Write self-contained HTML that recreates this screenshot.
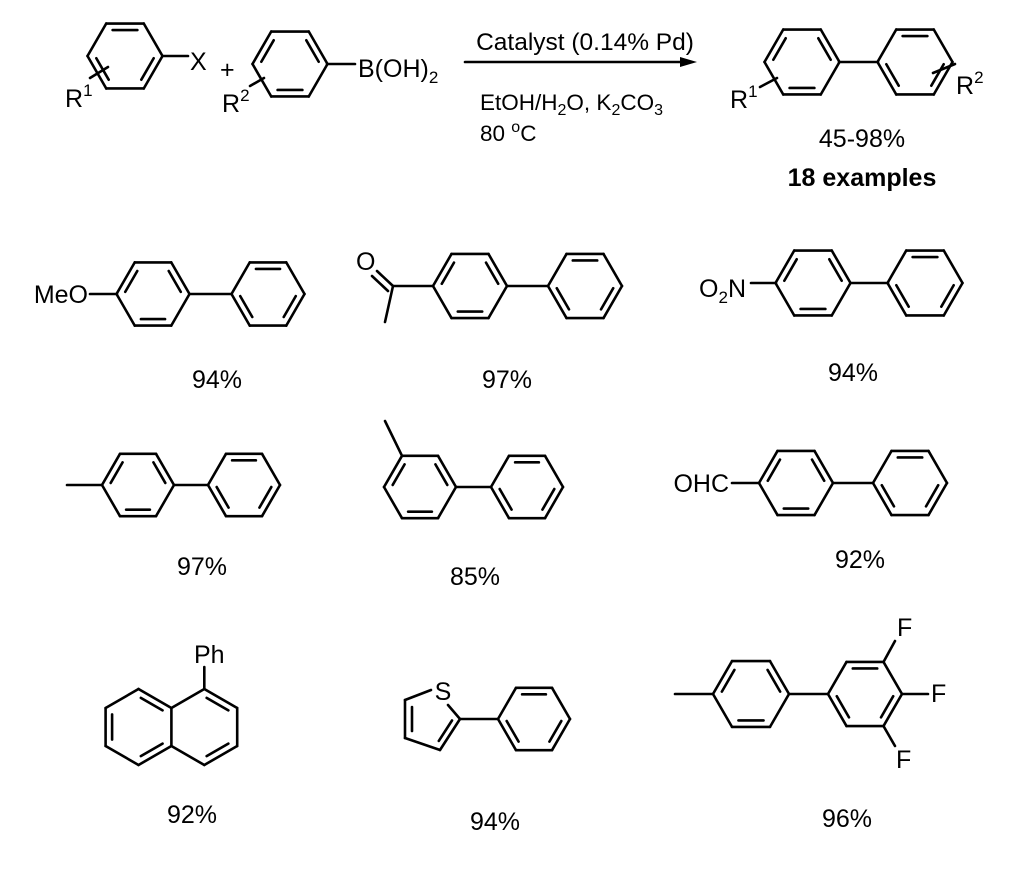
<!DOCTYPE html>
<html><head><meta charset="utf-8"><style>
html,body{margin:0;padding:0;background:#fff;}
svg{display:block;}
text{font-family:"Liberation Sans",Arial,sans-serif;fill:#000;}
</style></head><body>
<svg id="s" width="1024" height="877" viewBox="0 0 1024 877" xmlns="http://www.w3.org/2000/svg">
<g id="g" stroke="#000" stroke-width="2.6" fill="none" stroke-linecap="round" stroke-linejoin="round"></g>
<g font-size="25">
<text x="65" y="107">R<tspan font-size="17" dy="-11">1</tspan></text>
<text x="190" y="70">X</text>
<text x="220" y="78">+</text>
<text x="222" y="112">R<tspan font-size="17" dy="-11">2</tspan></text>
<text x="358" y="77">B(OH)<tspan font-size="17" dy="6">2</tspan></text>
<text x="585" y="50" font-size="24.5" text-anchor="middle">Catalyst (0.14% Pd)</text>
<text x="480" y="110" font-size="22.5">EtOH/H<tspan font-size="16" dy="5">2</tspan><tspan dy="-5">O, K</tspan><tspan font-size="16" dy="5">2</tspan><tspan dy="-5">CO</tspan><tspan font-size="16" dy="5">3</tspan></text>
<text x="480" y="141" font-size="22.5">80 <tspan font-size="16" dy="-9">o</tspan><tspan dy="9">C</tspan></text>
<text x="730" y="108">R<tspan font-size="17" dy="-11">1</tspan></text>
<text x="956" y="94">R<tspan font-size="17" dy="-11">2</tspan></text>
<text x="862" y="147" text-anchor="middle">45-98%</text>
<text x="862" y="186" text-anchor="middle" font-weight="bold">18 examples</text>

<text x="88" y="303" text-anchor="end">MeO</text>
<text x="217" y="388" text-anchor="middle">94%</text>
<text x="356" y="270">O</text>
<text x="507" y="388" text-anchor="middle">97%</text>
<text x="746" y="297" text-anchor="end">O<tspan font-size="17" dy="6">2</tspan><tspan dy="-6">N</tspan></text>
<text x="853" y="381" text-anchor="middle">94%</text>

<text x="202" y="575" text-anchor="middle">97%</text>
<text x="475" y="585" text-anchor="middle">85%</text>
<text x="729" y="492" text-anchor="end">OHC</text>
<text x="860" y="568" text-anchor="middle">92%</text>

<text x="194" y="663">Ph</text>
<text x="192" y="823" text-anchor="middle">92%</text>
<text x="443" y="700" text-anchor="middle">S</text>
<text x="495" y="830" text-anchor="middle">94%</text>
<text x="897" y="636">F</text>
<text x="931" y="702">F</text>
<text x="896" y="768">F</text>
<text x="847" y="827" text-anchor="middle">96%</text>
</g>
<polygon points="697,62 680,57 680,67" fill="#000"/>
</svg>
<script>
var g=document.getElementById('g'),out='';
function L(a,b,c,d){out+='<line x1="'+a+'" y1="'+b+'" x2="'+c+'" y2="'+d+'"/>';}
function D(p,q,cx,cy){var mx=(p[0]+q[0])/2,my=(p[1]+q[1])/2;
  var dx=cx-mx,dy=cy-my,dl=Math.hypot(dx,dy);var o=6.5;var ox=dx/dl*o,oy=dy/dl*o;
  var t=0.17;L(p[0]+(q[0]-p[0])*t+ox,p[1]+(q[1]-p[1])*t+oy,q[0]+(p[0]-q[0])*t+ox,q[1]+(p[1]-q[1])*t+oy);}
function hex(cx,cy,r,dbl){var v=[];
 for(var i=0;i<6;i++){var a=(i*60)*Math.PI/180;v.push([cx+r*Math.cos(a),cy+r*Math.sin(a)]);}
 for(var i=0;i<6;i++){var p=v[i],q=v[(i+1)%6];L(p[0],p[1],q[0],q[1]);}
 dbl.forEach(function(i){D(v[i],v[(i+1)%6],cx,cy);});
 return v;}
var A=[3,5,1],B=[4,0,2],r=37.5;
// top reaction
hex(125,56,r,B);L(163,56,188,56);L(90,78,108,67);
hex(290,64,r,A);L(327,64,355,64);L(250,86,264,78);
L(465,62,685,62);
hex(802,62,r,A);L(839,62,878,62);hex(915,62,r,B);L(760,87,777,78);L(933,73,955,64);
// row1
hex(153,294,36.5,A);L(90,294,117,294);hex(268,294,36.5,B);L(190,294,231,294);
hex(470,286,37,A);hex(585,286,37,B);L(507,286,548,286);L(393,286,433,286);L(393,286,385,322);
L(393,286,377,271);L(388,291,372,276);
hex(813,283,37.5,A);L(751,283,776,283);hex(925,283,37.5,B);L(851,283,888,283);
// row2
hex(138,485,36,A);L(67,485,102,485);hex(244,485,36,B);L(174,485,208,485);
var m=hex(420,487,36,A);L(m[4][0],m[4][1],385,421);hex(527,487,36,B);L(456,487,491,487);
hex(796,483,37,A);L(732,483,759,483);hex(910,483,37,B);L(833,483,873,483);
// naphthalene
var lc=[138.5,727],rc=[204.3,727];
var P=[[138.5,689],[171.4,708],[171.4,746],[138.5,765],[105.6,746],[105.6,708]];
var Q=[[204.3,689],[237.2,708],[237.2,746],[204.3,765],[171.4,746],[171.4,708]];
for(var i=0;i<6;i++){var a=P[i],b=P[(i+1)%6];L(a[0],a[1],b[0],b[1]);}
for(var i=0;i<6;i++){if(i==4)continue;var a=Q[i],b=Q[(i+1)%6];L(a[0],a[1],b[0],b[1]);}
D(P[4],P[5],lc[0],lc[1]);D(P[0],P[1],lc[0],lc[1]);D(P[2],P[3],lc[0],lc[1]);
D(Q[0],Q[1],rc[0],rc[1]);D(Q[2],Q[3],rc[0],rc[1]);
L(204.3,689,204.3,667);
// thiophene
L(460,719,440,750);L(440,750,405,738);L(405,738,405,700);L(405,700,431,690);L(448,705,460,719);
L(412,707,412,731);L(452,720.5,438.8,740.9);
L(460,719,498,719);hex(534,719,36,B);
// trifluoro
hex(751,694,38,A);L(675,694,713,694);var f=hex(865,694,37,B);L(789,694,828,694);
L(f[5][0],f[5][1],895,641);L(902,694,928,694);L(f[1][0],f[1][1],895,746);
g.innerHTML=out;
</script>
</body></html>
